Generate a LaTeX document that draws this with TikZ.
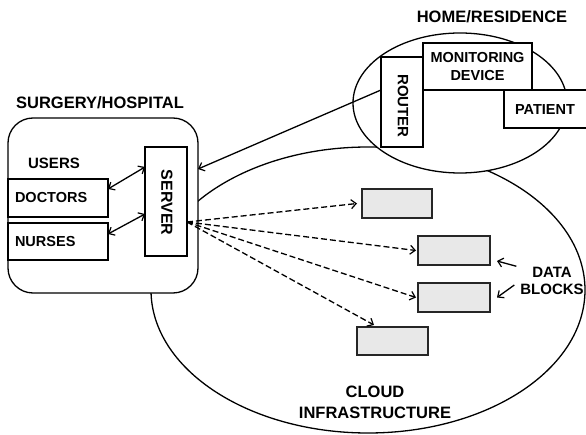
\documentclass[tikz,border=0pt]{standalone}
\usepackage{fontspec}
\setmainfont{Liberation Sans}
\usetikzlibrary{arrows.meta}
\begin{document}
\begin{tikzpicture}[x=1pt,y=-1pt,
  every node/.style={inner sep=0pt,outer sep=0pt},
  ln/.style={line width=1.3pt,draw=black},
  boxn/.style={ln,fill=white,font=\bfseries\fontsize{14.5}{16}\selectfont},
  vbox/.style={ln,fill=white},
  title/.style={font=\bfseries\fontsize{16.5}{18}\selectfont,align=center},
  blk/.style={draw=black!85,line width=1.5pt,fill=black!9,minimum width=70pt,minimum height=29pt},
  tip/.style={-{Straight Barb[length=5pt,width=9pt,line width=1.2pt]}},
  dtip/.style={{Straight Barb[length=5pt,width=9pt,line width=1.2pt]}-{Straight Barb[length=5pt,width=9pt,line width=1.2pt]}},
  dsh/.style={line width=1.3pt,dash pattern=on 6pt off 3pt}
]
\useasboundingbox (0,0) rectangle (586,435);
% cloud
\draw[ln] (368,290) ellipse [x radius=217, y radius=143];
% home ellipse
\draw[ln,fill=white] (460,103) ellipse [x radius=107, y radius=70];
% hospital
\node[ln,fill=white,rounded corners=25pt,minimum width=190pt,minimum height=175pt] (hosp) at (103,205.5) {};
% titles
\node[title] (thosp) at (100,103) {SURGERY/HOSPITAL};
\node[title] (thome) at (492,17) {HOME/RESIDENCE};
\node[title,font=\bfseries\fontsize{16.5}{21}\selectfont] (tcloud) at (375,402) {CLOUD\\INFRASTRUCTURE};
% users
\node[font=\bfseries\fontsize{15}{17}\selectfont] (users) at (54,163) {USERS};
\node[boxn,minimum width=100pt,minimum height=38pt,text width=86pt,inner xsep=7pt,align=left] (doc) at (58,198) {DOCTORS};
\node[boxn,minimum width=100pt,minimum height=37pt,text width=86pt,inner xsep=7pt,align=left] (nur) at (58,241.5) {NURSES};
% server
\node[vbox,minimum width=42pt,minimum height=109pt] (srv) at (166,201.5) {};
\node[rotate=-90,font=\bfseries\fontsize{16}{18}\selectfont] (srvt) at (167,202.5) {SERVER};
% home boxes
\node[vbox,minimum width=42pt,minimum height=90pt] (rout) at (402,102) {};
\node[rotate=-90,font=\bfseries\fontsize{15}{17}\selectfont] (routt) at (403,106) {ROUTER};
\node[boxn,minimum width=109pt,minimum height=47pt,align=center,font=\bfseries\fontsize{14.5}{19}\selectfont] (mon) at (477.5,66.5) {MONITORING\\[-1pt]DEVICE};
\node[boxn,minimum width=86pt,minimum height=38pt] (pat) at (547,109) {};
\node[font=\bfseries\fontsize{14.5}{16}\selectfont] (patt) at (545,110) {PATIENT};
% data blocks
\node[blk] (b1) at (397,203.5) {};
\node[blk,minimum width=72pt] (b2) at (454,250.5) {};
\node[blk,minimum width=72pt] (b3) at (454,297.5) {};
\node[blk,minimum width=71pt,minimum height=28pt] (b4) at (392.5,341) {};
\node[font=\bfseries\fontsize{15}{17}\selectfont,align=center] (dbl) at (552,281) {DATA\\BLOCKS};
% connectors
\draw[ln,dtip] ([yshift=9pt]doc.east) -- ([yshift=34.5pt]srv.west);
\draw[ln,dtip] ([yshift=7.5pt]nur.east) -- ([yshift=-12.5pt]srv.west);
\draw[ln,tip] ([yshift=12pt]rout.west) -- ([yshift=36.5pt]hosp.east);
\draw[dsh,tip] ([yshift=-20.5pt]srv.east) -- ([xshift=-5pt]b1.west);
\draw[dsh,tip] ([yshift=-20.5pt]srv.east) -- ([xshift=-2pt]b2.west);
\draw[dsh,tip] ([yshift=-20.5pt]srv.east) -- ([xshift=-2pt]b3.west);
\draw[dsh,tip] ([yshift=-20.5pt]srv.east) -- ([xshift=-18.5pt,yshift=2pt]b4.north);
\draw[ln,tip] ([xshift=-4pt,yshift=1pt]dbl.north west) -- ([xshift=7pt,yshift=-10.5pt]b2.east);
\draw[ln,tip] ([xshift=-6pt,yshift=-4pt]dbl.west) -- ([xshift=7pt]b3.east);
\end{tikzpicture}
\end{document}
